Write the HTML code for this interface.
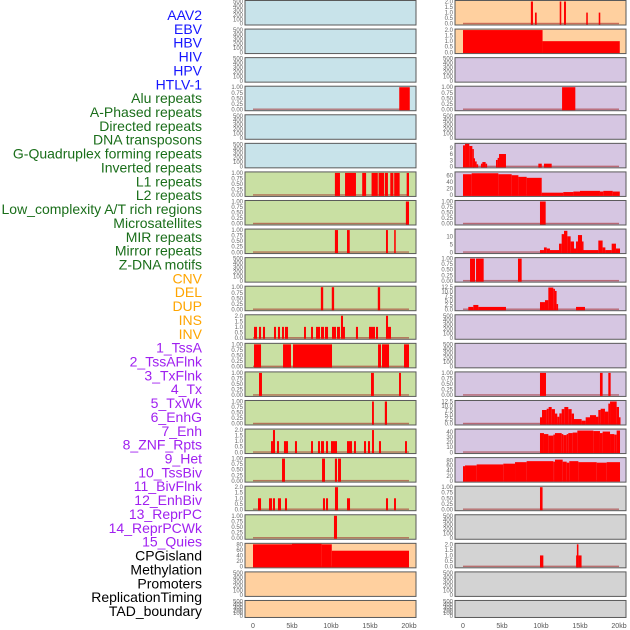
<!DOCTYPE html>
<html><head><meta charset="utf-8"><style>
html,body{margin:0;padding:0;background:#fff;}
svg{display:block;font-family:"Liberation Sans",sans-serif;}
</style></head><body>
<svg id="chart" width="630" height="630" viewBox="0 0 630 630"></svg>
<script>
const trackNames = ["AAV2","EBV","HBV","HIV","HPV","HTLV-1","Alu repeats","A-Phased repeats","Directed repeats","DNA transposons","G-Quadruplex forming repeats","Inverted repeats","L1 repeats","L2 repeats","Low_complexity A/T rich regions","Microsatellites","MIR repeats","Mirror repeats","Z-DNA motifs","CNV","DEL","DUP","INS","INV","1_TssA","2_TssAFlnk","3_TxFlnk","4_Tx","5_TxWk","6_EnhG","7_Enh","8_ZNF_Rpts","9_Het","10_TssBiv","11_BivFlnk","12_EnhBiv","13_ReprPC","14_ReprPCWk","15_Quies","CPGisland","Methylation","Promoters","ReplicationTiming","TAD_boundary"];
const labelColors = ["#1515ff","#1a6e1a","#ffa500","#a020f0","#000"];
const groupOf = [0,0,0,0,0,0,1,1,1,1,1,1,1,1,1,1,1,1,1,2,2,2,2,2,3,3,3,3,3,3,3,3,3,3,3,3,3,3,3,4,4,4,4,4];
const xTickValues = [0,5,10,15,20];
const xTickLabels = ["0","5kb","10kb","15kb","20kb"];
const ticksEmpty = [0,100,200,300,400,500];
const ticksProb = [0,0.25,0.5,0.75,1];
const ticksTwo = [0,0.5,1,1.5,2];
const ticksCpg = [0,20,40,60,80];
const ticksR6 = [0,3,6,9];
const ticksR7 = [0,20,40,60];
const ticksR9 = [0,5,10];
const ticksR11 = [0,2.5,5,7.5,10,12.5];
const ticksR16 = [0,10,20,30,40];
const ticksR17 = [0,20,40,60,80];
// segments: [startKb, endKb, value]
const segL4 = [[18.75,20.1,1]];
const segL7 = [[10.5,11.15,1],[11.8,13.2,1],[14.0,14.5,1],[15.2,16.0,1],[16.1,16.8,1],[16.9,17.3,1],[17.6,18.0,1],[18.1,18.8,1],[19.7,20.0,1]];
const segL8 = [[19.6,20.0,1]];
const segL9 = [[10.5,10.9,1],[12.05,12.4,1],[17.05,17.3,1],[18.1,18.3,1]];
const segL11 = [[8.7,9.0,1],[10.1,10.4,1],[16.0,16.3,1]];
const segL12 = [[0.13,0.51,1],[0.77,1.03,1],[1.28,1.54,1],[2.69,2.95,1],[3.2,3.46,1],[3.72,3.97,1],[4.1,4.49,1],[6.54,6.79,1],[7.44,7.69,1],[8.08,8.59,1],[8.72,9.1,1],[9.23,9.62,1],[10.13,10.64,1],[10.77,11.15,1],[11.28,11.54,2],[11.54,11.79,1],[13.2,13.46,1],[14.87,15.64,1],[15.77,16.03,1],[17.05,17.31,2],[17.31,17.69,1]];
const segL13 = [[0.13,1.03,1],[3.85,4.87,1],[5.13,10.13,1],[16.03,16.41,1],[16.54,17.44,1],[19.36,20.0,1]];
const segL14 = [[0.77,1.15,1],[15.13,15.5,1],[18.72,18.97,1]];
const segL15 = [[15.26,15.5,1],[16.9,17.18,1]];
const segL16 = [[2.31,2.56,1],[2.56,2.82,2],[3.08,3.33,1],[3.97,4.49,1],[5.38,5.64,1],[7.44,7.69,1],[8.33,8.59,1],[8.72,9.1,1],[9.36,9.62,1],[10.0,10.77,1],[12.05,12.69,1],[12.95,13.2,1],[14.23,14.49,1],[14.74,15.0,1],[15.26,15.51,2],[16.15,16.41,1],[19.49,19.74,1]];
const segL17 = [[3.72,4.1,1],[8.85,9.23,1],[10.5,10.77,1],[10.9,11.28,1]];
const segL18 = [[0.64,1.03,1],[2.05,2.44,1],[2.56,2.82,1],[3.2,3.59,1],[4.1,4.36,1],[8.97,9.23,1],[9.36,9.62,1],[10.51,10.9,2],[12.05,12.44,1],[17.05,17.31,1],[18.08,18.33,1]];
const segL19 = [[10.38,10.77,1]];
const segL20 = [[0,5,80],[5,8.8,82],[8.8,10.1,80],[10.1,20.0,57]];
const segR1 = [[8.7,8.97,2],[9.23,9.45,1],[12.4,12.6,2],[12.95,13.2,2],[15.8,16.0,1],[17.4,17.6,1]];
const segR2 = [[0,10.2,2],[10.2,20.1,1]];
const segR4 = [[12.7,14.4,1]];
const segR6 = [[0,0.26,10.3],[0.26,0.81,11.1],[0.81,1.2,10.0],[1.2,1.33,8.5],[1.33,1.54,4],[1.54,1.75,2.5],[1.75,1.88,1.1],[2.3,2.48,1.4],[2.48,2.9,2.2],[2.9,3.03,1.4],[4.23,4.44,3.2],[4.44,4.62,4.2],[4.62,5.51,6.1],[9.66,10.1,1.4],[10.38,11.37,1.4]];
const segR7 = [[0,1.11,64],[1.11,4.53,67],[4.53,6.24,64],[6.24,7.1,61],[7.1,8.16,56],[8.16,10.09,53],[10.09,12.86,7.5],[12.86,14.15,9.4],[14.15,15.0,11],[15.0,17.56,13],[17.56,17.99,11],[17.99,19.19,13],[19.19,20.1,11]];
const segR8 = [[9.87,10.6,1]];
const segR9 = [[9.87,10.38,1.4],[10.38,10.73,3.1],[10.73,11.15,2.4],[11.15,12.31,1.4],[12.31,12.65,5.5],[12.65,12.95,11.6],[12.95,13.38,13.7],[13.38,13.8,10.2],[13.8,14.23,6.9],[14.23,14.49,2.4],[14.49,14.74,6.9],[14.74,15.26,11],[15.26,15.43,6.9],[15.43,17.35,1.4],[17.35,17.9,7.5],[17.9,18.25,3.1],[18.25,19.06,1.4],[19.06,19.61,5.5],[19.61,20.13,2.4]];
const segR10 = [[0.9,1.54,1],[1.67,2.65,1],[7.05,7.52,1]];
const segR11 = [[0.68,1.32,1.4],[1.32,1.97,2.5],[1.97,5.51,1.4],[9.87,10.51,4.1],[10.51,10.94,5.2],[10.94,11.58,12.3],[11.58,11.79,11.6],[11.79,12.0,10.4],[12.0,12.14,3],[14.49,15.64,1.4]];
const segR14 = [[9.87,10.64,1],[17.56,17.9,1],[18.63,18.93,1]];
const segR15 = [[9.87,10.13,3.6],[10.13,10.73,7.7],[10.73,10.98,8.4],[10.98,11.37,9.4],[11.37,11.79,8.2],[11.79,12.09,5.7],[12.09,12.35,3.9],[12.35,12.65,5.8],[12.65,12.99,8.2],[12.99,13.5,9.4],[13.5,13.93,8.2],[13.93,14.23,5.7],[14.23,15.21,2.6],[15.21,15.73,1.7],[15.73,16.28,3.6],[16.28,17.05,4.8],[17.05,17.35,3.9],[17.35,17.65,7.7],[17.65,18.2,8.4],[18.2,18.63,6.8],[18.63,18.85,11.3],[18.85,19.7,12.5],[19.7,20.0,9.4],[20.0,20.13,3.6]];
const segR16 = [[9.87,10.38,38],[10.38,10.94,36],[10.94,11.58,33],[11.58,11.79,35],[11.79,12.65,38],[12.65,12.86,36],[12.86,13.29,34],[13.29,13.5,36],[13.5,14.06,38],[14.06,14.66,39],[14.66,16.71,43],[16.71,17.56,42],[17.56,17.9,38],[17.9,18.85,41],[18.85,19.4,36],[19.4,19.7,35],[19.7,20.13,43]];
const segR17 = [[0,0.26,58],[0.26,1.75,61],[1.75,5.17,65],[5.17,6.67,68],[6.67,8.16,74],[8.16,11.58,78],[11.58,11.79,76],[11.79,12.78,84],[12.78,13.29,76],[13.29,13.63,72],[13.63,14.79,78],[14.79,17.14,74],[17.14,18.42,72],[18.42,20.13,74]];
const segR18 = [[9.87,10.2,1]];
const segR20 = [[9.87,10.3,1],[14.5,14.6,1],[14.6,14.8,2],[14.8,15.2,1]];

const panelTicks = [ticksEmpty,ticksEmpty,ticksEmpty,ticksProb,ticksEmpty,ticksEmpty,ticksProb,ticksProb,ticksProb,ticksEmpty,ticksProb,ticksTwo,ticksProb,ticksProb,ticksProb,ticksTwo,ticksProb,ticksTwo,ticksProb,ticksCpg,ticksEmpty,ticksEmpty,
 ticksTwo,ticksTwo,ticksEmpty,ticksProb,ticksEmpty,ticksR6,ticksR7,ticksProb,ticksR9,ticksProb,ticksR11,ticksEmpty,ticksEmpty,ticksProb,ticksR11,ticksR16,ticksR17,ticksProb,ticksEmpty,ticksTwo,ticksEmpty,ticksEmpty];
const panelMax = [500,500,500,1,500,500,1,1,1,500,1,2,1,1,1,2,1,2,1,80,500,500,
 2,2,500,1,500,10.8,68,1,14.2,1,12.5,500,500,1,12.5,44,88,1,500,2,500,500];
const panelSegs = [null,null,null,segL4,null,null,segL7,segL8,segL9,null,segL11,segL12,segL13,segL14,segL15,segL16,segL17,segL18,segL19,segL20,null,null,
 segR1,segR2,null,segR4,null,segR6,segR7,segR8,segR9,segR10,segR11,null,null,segR14,segR15,segR16,segR17,segR18,null,segR20,null,null];
const bgColors = ["#c8e3ea","#c9e0a3","#ffd09f","#d6c6e2","#d3d3d3"];
const panelBg = [0,0,0,0,0,0,1,1,1,1,1,1,1,1,1,1,1,1,1,2,2,2, 2,2,3,3,3,3,3,3,3,3,3,3,3,3,3,3,3,4,4,4,4,4];

const NS = "http://www.w3.org/2000/svg";
const svg = document.getElementById("chart");
function mk(tag, attrs, parent){const e=document.createElementNS(NS,tag);for(const k in attrs)e.setAttribute(k,attrs[k]);(parent||svg).appendChild(e);return e;}

// labels
trackNames.forEach((n,i)=>{
  const t = mk("text",{x:202,y:15+i*13.86+5,"text-anchor":"end","font-size":"14",fill:labelColors[groupOf[i]]});
  t.textContent = n;
  
  
});

const colLeft = [245,455];
const panelW = 171;
function xScale(col, kb){return colLeft[col] + 8 + kb*7.8;}
function fmt(v, ticks){
  if (ticks===ticksProb) return v.toFixed(2);
  if (ticks===ticksTwo || ticks===ticksR11) return v.toFixed(1);
  return String(v);
}

for (let p=0;p<44;p++){
  const col = p<22?0:1, row = p%22;
  const top = row*28.57+0.5;
  const h = row===21?17:24.5;
  const x0 = colLeft[col];
  const g = mk("g",{});
  
  
  const bg = mk("rect",{x:x0,y:top,width:panelW,height:h,fill:bgColors[panelBg[p]],stroke:"#5a5a5a","stroke-width":1},g);
  
  
  const ymax = panelMax[p];
  const yS = v => (top+h-1.3) - (v/ymax)*(h-2.3);
  const ticks = panelTicks[p];
  ticks.forEach(v=>{
    const tl = mk("text",{x:x0-2,y:yS(v)+2,"text-anchor":"end","font-size":"6",fill:"#666"},g);
    tl.textContent = fmt(v,ticks);
    
    
  });
  const segs = panelSegs[p];
  if (segs){
    const base = mk("rect",{x:xScale(col,0),y:top+h-2.2,width:xScale(col,20)-xScale(col,0),height:1.4,fill:"rgba(160,30,30,0.55)"},g);
    
    
    segs.forEach(s=>{
      const y = Math.max(top+0.5, yS(s[2]));
      const b = mk("rect",{x:xScale(col,s[0]),y:y,width:Math.max(1.5,xScale(col,s[1])-xScale(col,s[0])),height:(top+h-0.5)-y,fill:"#ff0000"},g);
      
      
    });
  }
}
// x axes
[0,1].forEach(col=>{
  xTickValues.forEach((v,i)=>{
    const t = mk("text",{x:xScale(col,v),y:628,"text-anchor":"middle","font-size":"7",fill:"#555"});
    t.textContent = xTickLabels[i];
    
    
  });
});
</script>
</body></html>
